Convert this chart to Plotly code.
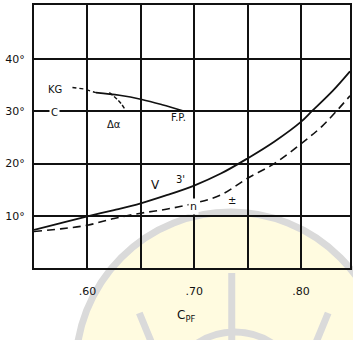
import plotly.graph_objects as go

# ---- data ----
cpf_v = [0.55, 0.575, 0.60, 0.625, 0.65, 0.675, 0.70, 0.725, 0.75, 0.775, 0.80, 0.81, 0.83, 0.846]
v_vals = [7.3, 8.6, 9.9, 11.1, 12.4, 14.0, 15.8, 18.1, 21.0, 24.2, 28.0, 30.0, 34.0, 37.7]

cpf_n = [0.55, 0.575, 0.60, 0.625, 0.65, 0.675, 0.70, 0.725, 0.75, 0.775, 0.80, 0.82, 0.846]
n_vals = [7.0, 7.5, 8.2, 9.5, 10.5, 11.3, 12.4, 14.0, 17.2, 20.0, 23.8, 27.2, 33.0]

cpf_kg = [0.608, 0.63, 0.651, 0.67, 0.69]
kg_vals = [33.6, 33.1, 32.3, 31.3, 30.1]
cpf_lead = [0.586, 0.597, 0.608]
lead_vals = [34.6, 34.3, 33.6]
cpf_arc = [0.6205, 0.627, 0.6316, 0.6353]
arc_vals = [33.6, 32.5, 31.5, 30.4]

x_ticks = [0.60, 0.70, 0.80]
x_labels = [".60", ".70", ".80"]
x_minor = [0.65, 0.75]
y_ticks = [10, 20, 30, 40]
y_labels = ["10°", "20°", "30°", "40°"]

W, H = 353, 340
L, R, T, B = 34, 1, 5, 72
pw, ph = W - L - R, H - T - B

def px(xp):
    return (xp - L) / pw

def py(yp):
    return (H - B - yp) / ph

fig = go.Figure()
line_c = "#111111"
fig.add_trace(go.Scatter(x=cpf_v, y=v_vals, mode="lines", line=dict(color=line_c, width=1.8, shape="spline")))
fig.add_trace(go.Scatter(x=cpf_n, y=n_vals, mode="lines", line=dict(color=line_c, width=1.6, dash="8px,5px", shape="spline")))
fig.add_trace(go.Scatter(x=cpf_kg, y=kg_vals, mode="lines", line=dict(color=line_c, width=1.6, shape="spline")))
fig.add_trace(go.Scatter(x=cpf_lead, y=lead_vals, mode="lines", line=dict(color=line_c, width=1.4, dash="4px,3px")))
fig.add_trace(go.Scatter(x=cpf_arc, y=arc_vals, mode="lines", line=dict(color=line_c, width=1.4, dash="4px,2px", shape="spline")))

# watermark (light logo behind the chart)
gray = "#dadada"
yellow = "#fffbe0"
shapes = [
    dict(type="circle", xref="paper", yref="paper", layer="below",
         x0=px(76), x1=px(388), y0=py(524), y1=py(212),
         fillcolor=yellow, line=dict(color=gray, width=7)),
    dict(type="circle", xref="paper", yref="paper", layer="below",
         x0=px(168), x1=px(304), y0=py(468), y1=py(332),
         fillcolor="rgba(0,0,0,0)", line=dict(color=gray, width=7)),
    dict(type="line", xref="paper", yref="paper", layer="below",
         x0=px(233), x1=px(233), y0=py(273), y1=py(342),
         line=dict(color=gray, width=7)),
    dict(type="line", xref="paper", yref="paper", layer="below",
         x0=px(140), x1=px(152), y0=py(313), y1=py(342),
         line=dict(color=gray, width=7)),
    dict(type="line", xref="paper", yref="paper", layer="below",
         x0=px(330), x1=px(318), y0=py(313), y1=py(342),
         line=dict(color=gray, width=7)),
]

font_t = dict(family="DejaVu Sans", size=11, color=line_c)
ann = [
    dict(x=0.5696, y=34.2, text="KG", font=dict(family="DejaVu Sans", size=10, color=line_c)),
    dict(x=0.5696, y=29.8, text="C", font=dict(family="DejaVu Sans", size=10, color=line_c), bgcolor="white"),
    dict(x=0.6249, y=27.5, text="Δα", font=dict(family="DejaVu Sans", size=10, color=line_c)),
    dict(x=0.685, y=28.9, text="F.P.", font=dict(family="DejaVu Sans", size=10, color=line_c)),
    dict(x=0.6636, y=16.0, text="V", font=dict(family="DejaVu Sans", size=12, color=line_c)),
    dict(x=0.687, y=16.9, text="3'", font=dict(family="DejaVu Sans", size=10, color=line_c)),
    dict(x=0.699, y=11.7, text="n", font=dict(family="DejaVu Sans", size=11, color=line_c), bgcolor="white"),
    dict(x=0.735, y=13.0, text="±", font=dict(family="DejaVu Sans", size=10, color=line_c)),
]
for a in ann:
    a.update(xref="x", yref="y", showarrow=False)
ann.append(dict(xref="paper", yref="paper", x=px(187), y=py(326), showarrow=False,
                text="C<sub>PF</sub>", font=dict(family="DejaVu Sans", size=12, color=line_c)))

fig.update_layout(
    width=W, height=H,
    margin=dict(l=L, r=R, t=T, b=B, pad=0),
    paper_bgcolor="white", plot_bgcolor="rgba(0,0,0,0)",
    showlegend=False,
    shapes=shapes, annotations=ann,
    font=font_t,
)
fig.update_xaxes(range=[0.55, 0.846], tickvals=x_ticks, ticktext=x_labels,
                 showgrid=True, gridcolor=line_c, gridwidth=1.6,
                 minor=dict(tickvals=x_minor, showgrid=True, gridcolor=line_c, gridwidth=1.6, ticks=""),
                 showline=True, mirror=True, linecolor=line_c, linewidth=2,
                 ticks="", zeroline=False, ticklabelstandoff=12,
                 tickfont=dict(family="DejaVu Sans", size=11, color=line_c))
fig.update_yaxes(range=[0, 50.4], tickvals=y_ticks, ticktext=y_labels,
                 showgrid=True, gridcolor=line_c, gridwidth=1.6,
                 showline=True, mirror=True, linecolor=line_c, linewidth=2,
                 ticks="", zeroline=False, ticklabelstandoff=5,
                 tickfont=dict(family="DejaVu Sans", size=11, color=line_c))

fig.write_html("out.html", config={"displayModeBar": False},
               post_script="document.body.style.margin='0';document.body.style.overflow='hidden';")
